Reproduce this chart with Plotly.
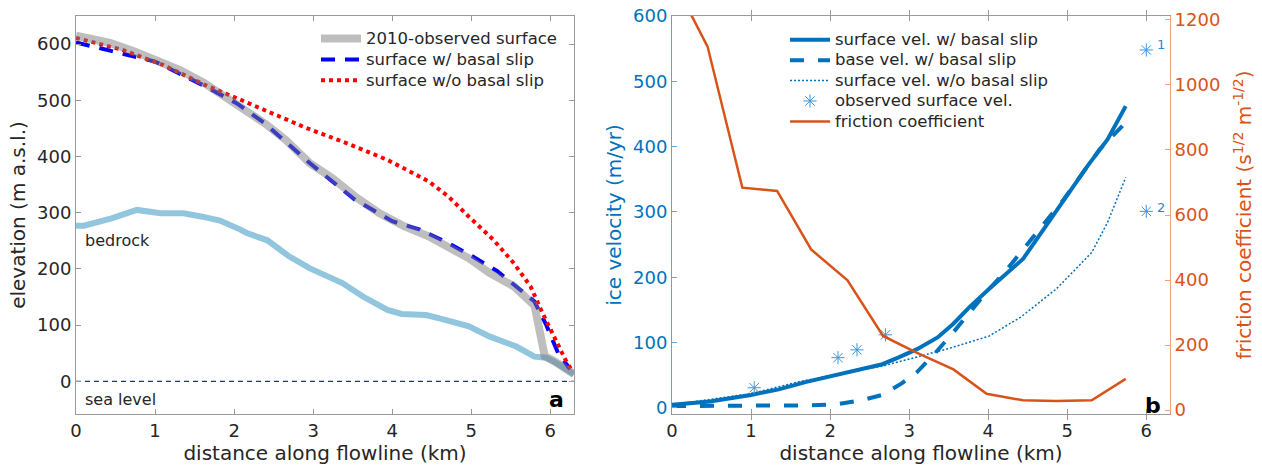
import plotly.graph_objects as go

# ---------------- panel a data ----------------
x_bed = [0, 0.1, 0.45, 0.77, 1.07, 1.36, 1.6, 1.82, 2.08, 2.16, 2.42, 2.7, 2.96, 3.37, 3.63, 3.94, 4.12, 4.43, 4.66, 4.97, 5.23, 5.57, 5.8, 5.95, 6.05, 6.3]
z_bed = [277, 277, 290, 305, 299, 299, 293, 286, 270, 264, 251, 222, 201, 175, 151, 127, 120, 118, 110, 98, 80, 62, 44, 42, 35, 13]

x_obs = [0, 0.43, 0.74, 1.0, 1.31, 1.62, 1.82, 2.13, 2.39, 2.65, 2.96, 3.24, 3.53, 3.84, 4.15, 4.46, 4.71, 4.97, 5.23, 5.54, 5.8, 5.93, 6.05, 6.3]
z_obs = [615, 602, 587, 572, 554, 531, 513, 486, 459, 430, 388, 362, 329, 299, 276, 258, 240, 219, 193, 169, 135, 45, 36, 13]

x_slip = [0, 0.43, 1.0, 1.62, 2.03, 2.39, 2.96, 3.53, 4.0, 4.35, 4.71, 5.02, 5.33, 5.62, 5.8, 5.95, 6.1, 6.25]
z_slip = [603, 589, 569, 526, 495, 459, 388, 323, 285, 270, 246, 222, 196, 163, 142, 100, 50, 22]

x_noslip = [0, 0.58, 1.1, 1.62, 2.03, 2.39, 2.91, 3.42, 3.94, 4.46, 4.71, 4.97, 5.28, 5.54, 5.75, 5.9, 6.06, 6.19, 6.27]
z_noslip = [611, 590, 563, 528, 504, 483, 451, 424, 394, 356, 329, 293, 252, 210, 169, 122, 74, 39, 20]

x_sea = [0, 6.3]
z_sea = [0, 0]

# ---------------- panel b data ----------------
x_vs = [0, 0.48, 1.0, 1.35, 1.7, 2.1, 2.4, 2.66, 2.86, 3.1, 3.36, 3.56, 3.76, 4.01, 4.44, 4.66, 4.96, 5.26, 5.51, 5.74]
v_s = [5, 10, 20, 28.5, 40, 51, 60, 67, 77, 90, 108, 129, 154, 182, 228, 266, 320, 371, 411, 462]

x_vb = [0, 1.1, 1.6, 2.05, 2.4, 2.66, 2.91, 3.1, 3.3, 3.56, 3.81, 4.01, 4.21, 4.61, 4.96, 5.41, 5.74]
v_b = [3, 3, 4, 5, 12, 20, 38, 55, 80, 116, 152, 182, 208, 269, 320, 396, 437]

x_vn = [0, 1, 1.6, 2.1, 2.66, 3.1, 3.5, 4.01, 4.41, 4.86, 5.31, 5.51, 5.74]
v_n = [5, 22, 40, 52, 64, 78, 91, 110, 139, 182, 238, 284, 353]

x_vo = [1.04, 2.1, 2.34, 2.7, 6.0, 6.0]
v_o = [31, 77, 89, 112, 548, 301]

x_fr = [0, 0.45, 0.89, 1.33, 1.76, 2.22, 2.67, 3.1, 3.56, 3.98, 4.44, 4.86, 5.31, 5.74]
fric = [1330, 1118, 684, 674, 494, 399, 228, 176, 125, 50, 30, 28, 30, 96]

W, H = 1262, 469
FONT = "DejaVu Sans"
TXT = "#262626"
AX = "#9a9a9a"
BLUE = "#0072BD"
ORANGE = "#D95319"


def px(xp):
    return xp / W


def py(yp):
    return 1 - yp / H


def big(s):
    return '<span style="font-size:16.5px">' + s + '</span>'


fig = go.Figure()

# panel a
fig.add_trace(go.Scatter(x=x_sea, y=z_sea, mode="lines", showlegend=False,
                         line=dict(color="#1f3a6e", width=1.2, dash="5px,4px"),
                         xaxis="x", yaxis="y", hoverinfo="skip"))
fig.add_trace(go.Scatter(x=x_bed, y=z_bed, mode="lines", showlegend=False,
                         line=dict(color="#92C5DE", width=6),
                         xaxis="x", yaxis="y"))
fig.add_trace(go.Scatter(x=x_slip, y=z_slip, mode="lines", name=big("surface w/ basal slip"),
                         line=dict(color="#0000FF", width=4, dash="14px,10px"),
                         xaxis="x", yaxis="y", legend="legend", legendrank=2))
fig.add_trace(go.Scatter(x=x_noslip, y=z_noslip, mode="lines", name=big("surface w/o basal slip"),
                         line=dict(color="#FF0000", width=4, dash="4px,4px"),
                         xaxis="x", yaxis="y", legend="legend", legendrank=3))
fig.add_trace(go.Scatter(x=x_obs, y=z_obs, mode="lines", name=big("2010-observed surface"),
                         line=dict(color="rgba(122,122,122,0.49)", width=8),
                         xaxis="x", yaxis="y", legend="legend", legendrank=1))

# panel b
fig.add_trace(go.Scatter(x=x_vs, y=v_s, mode="lines", name=big("surface vel. w/ basal slip"),
                         line=dict(color=BLUE, width=4),
                         xaxis="x2", yaxis="y2", legend="legend2", legendrank=1))
fig.add_trace(go.Scatter(x=x_vb, y=v_b, mode="lines", name=big("base vel. w/ basal slip"),
                         line=dict(color=BLUE, width=4, dash="14px,14px"),
                         xaxis="x2", yaxis="y2", legend="legend2", legendrank=2))
fig.add_trace(go.Scatter(x=x_vn, y=v_n, mode="lines", name=big("surface vel. w/o basal slip"),
                         line=dict(color=BLUE, width=1.5, dash="2px,2px"),
                         xaxis="x2", yaxis="y2", legend="legend2", legendrank=3))
fig.add_trace(go.Scatter(x=x_vo, y=v_o, mode="markers", name=big("observed surface vel."),
                         marker=dict(symbol="asterisk-open", size=11, color="#3E93DB",
                                     line=dict(color="#3E93DB", width=1)),
                         xaxis="x2", yaxis="y2", legend="legend2", legendrank=4))
fig.add_trace(go.Scatter(x=x_fr, y=fric, mode="lines", name=big("friction coefficient"),
                         line=dict(color=ORANGE, width=2.5),
                         xaxis="x2", yaxis="y3", legend="legend2", legendrank=5))

axis_common = dict(showgrid=False, zeroline=False, showline=True, ticks="inside",
                   ticklen=5, tickwidth=1, automargin=False,
                   tickfont=dict(family=FONT, size=18, color=TXT))

fig.update_layout(
    width=W, height=H, template="none",
    margin=dict(l=0, r=0, t=0, b=0),
    paper_bgcolor="white", plot_bgcolor="white",
    font=dict(family=FONT, color=TXT),
    xaxis=dict(axis_common, domain=[px(76), px(574)], range=[0, 6.3],
               tickvals=[0, 1, 2, 3, 4, 5, 6], mirror="allticks",
               linecolor=AX, tickcolor=AX, anchor="y",
               title=dict(text="distance along flowline (km)", standoff=4,
                          font=dict(family=FONT, size=20, color=TXT))),
    yaxis=dict(axis_common, domain=[py(414), py(16)], range=[-58, 650],
               tickvals=[0, 100, 200, 300, 400, 500, 600], mirror="allticks",
               linecolor=AX, tickcolor=AX, anchor="x",
               title=dict(text="elevation (m a.s.l.)", standoff=6,
                          font=dict(family=FONT, size=20, color=TXT))),
    xaxis2=dict(axis_common, domain=[px(672), px(1170)], range=[0, 6.3],
                tickvals=[0, 1, 2, 3, 4, 5, 6], mirror="allticks",
                linecolor=AX, tickcolor=AX, anchor="y2",
                title=dict(text="distance along flowline (km)", standoff=4,
                           font=dict(family=FONT, size=20, color=TXT))),
    yaxis2=dict(axis_common, domain=[py(414), py(16)], range=[-9.2, 600],
                tickvals=[0, 100, 200, 300, 400, 500, 600], anchor="x2", side="left",
                linecolor="#5DA5DA", tickcolor="#5DA5DA",
                tickfont=dict(family=FONT, size=18, color=BLUE),
                title=dict(text="ice velocity (m/yr)", standoff=6,
                           font=dict(family=FONT, size=20, color=BLUE))),
    yaxis3=dict(axis_common, domain=[py(414), py(16)], range=[-12, 1212],
                tickvals=[0, 200, 400, 600, 800, 1000, 1200], anchor="x2",
                overlaying="y2", side="right",
                linecolor="#F0A07E", tickcolor="#F0A07E",
                tickfont=dict(family=FONT, size=18, color=ORANGE),
                title=dict(text="friction coefficient (s<sup>1/2</sup> m<sup>-1/2</sup>)", standoff=17,
                           font=dict(family=FONT, size=20, color=ORANGE))),
    legend=dict(x=px(316), y=py(23), xanchor="left", yanchor="top",
                bgcolor="rgba(0,0,0,0)", borderwidth=0, itemwidth=40,
                tracegroupgap=0, font=dict(family=FONT, size=13.8, color=TXT)),
    legend2=dict(x=px(785), y=py(24.5), xanchor="left", yanchor="top",
                 bgcolor="rgba(0,0,0,0)", borderwidth=0, itemwidth=40,
                 tracegroupgap=0, font=dict(family=FONT, size=13.4, color=TXT)),
)

annos = [
    dict(text="bedrock", x=px(83), y=py(241), xanchor="left", yanchor="middle",
         font=dict(family=FONT, size=16, color=TXT)),
    dict(text="sea level", x=px(83), y=py(399), xanchor="left", yanchor="middle",
         font=dict(family=FONT, size=16, color=TXT)),
    dict(text="<b>a</b>", x=px(566), y=py(399), xanchor="right", yanchor="middle",
         font=dict(family=FONT, size=22, color="black")),
    dict(text="<b>b</b>", x=px(1163), y=py(405), xanchor="right", yanchor="middle",
         font=dict(family=FONT, size=22, color="black")),
    dict(text="1", x=px(1155), y=py(44), xanchor="left", yanchor="middle",
         font=dict(family=FONT, size=13, color="#2B86D0")),
    dict(text="2", x=px(1155), y=py(207), xanchor="left", yanchor="middle",
         font=dict(family=FONT, size=13, color="#2B86D0")),
]
for a in annos:
    a.update(xref="paper", yref="paper", showarrow=False)
fig.update_layout(annotations=annos)

fig.write_html("out.html", config={"displayModeBar": False})

# remove the default page margin so the figure sits at the window's top-left corner
with open("out.html", "r", encoding="utf-8") as fh:
    html = fh.read()
html = html.replace("<head>", "<head><style>html,body{margin:0;padding:0;overflow:hidden;}</style>", 1)
with open("out.html", "w", encoding="utf-8") as fh:
    fh.write(html)
